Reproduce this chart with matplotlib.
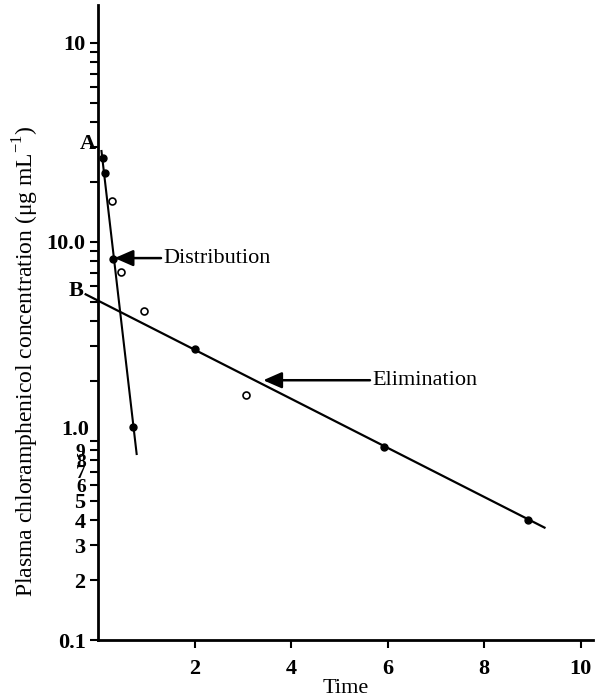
import matplotlib
matplotlib.use("Agg")
import matplotlib.pyplot as plt
from matplotlib.transforms import blended_transform_factory

plt.rcParams['font.family'] = 'Liberation Serif'
plt.rcParams['mathtext.fontset'] = 'custom'
plt.rcParams['mathtext.rm'] = 'Liberation Serif'

# measured points (time, concentration)
filled_t = [0.11, 0.15, 0.30, 0.73, 2.0, 5.92, 8.9]
filled_c = [26.4, 22.3, 8.2, 1.17, 2.9, 0.93, 0.40]
open_t = [0.28, 0.47, 0.94, 3.07]
open_c = [16.1, 7.1, 4.5, 1.70]

# fitted lines
dist_t = [0.066, 0.80]
dist_c = [29.0, 0.85]
elim_t = [-0.28, 9.27]
elim_c = [5.49, 0.365]

ytick_vals = [0.1, 0.2, 0.3, 0.4, 0.5, 0.6, 0.7, 0.8, 0.9, 10, 100]
ytick_labels = ['0.1', '2', '3', '4', '5', '6', '7', '8', '9', '10.0', '10']
yminor = [1, 2, 3, 4, 5, 6, 7, 8, 9, 20, 30, 40, 50, 60, 70, 80, 90]
xtick_vals = [2, 4, 6, 8, 10]

fs = 16

fig = plt.figure(figsize=(6.06, 7.0), dpi=100)
ax = fig.add_axes([0.162, 0.0857, 0.817, 0.907])

ax.plot(dist_t, dist_c, color='black', lw=1.5, solid_capstyle='butt')
ax.plot(elim_t, elim_c, color='black', lw=1.6, clip_on=False, solid_capstyle='butt')
ax.plot(filled_t, filled_c, 'o', color='black', ms=5, clip_on=False)
ax.plot(open_t, open_c, 'o', mfc='white', mec='black', mew=1.2, ms=5, clip_on=False)

ax.set_yscale('log')
ax.set_ylim(0.1, 155)
ax.set_xlim(0, 10.26)

ax.set_yticks(ytick_vals)
ax.set_yticklabels(ytick_labels, fontweight='bold', fontsize=fs)
ax.set_yticks(yminor, minor=True)
ax.set_yticklabels([], minor=True)
ax.set_xticks(xtick_vals)
ax.set_xticklabels([str(v) for v in xtick_vals], fontweight='bold', fontsize=fs)

# the small digits crowd together near 1.0, as in the original
for lab in ax.get_yticklabels():
    if lab.get_text() in ['9', '8', '7', '6']:
        lab.set_fontsize(14)

ax.tick_params(axis='both', which='both', direction='out', length=6, width=1.5, color='black')
ax.tick_params(axis='y', pad=3)
ax.tick_params(axis='x', pad=8)

for s in ['top', 'right']:
    ax.spines[s].set_visible(False)
for s in ['left', 'bottom']:
    ax.spines[s].set_linewidth(2)

# the "1.0" label sits a little above its tick in the original
tr = blended_transform_factory(ax.transAxes, ax.transData)
ax.text(-0.018, 1.13, '1.0', transform=tr, ha='right', va='center',
        fontsize=fs, fontweight='bold')

ax.set_xlabel('Time', fontsize=fs, labelpad=0)
ax.set_ylabel('Plasma chloramphenicol concentration (μg mL$^{-1}$)', fontsize=17)
ax.yaxis.set_label_coords(-0.115, 0.44)

ax.text(-0.05, 31, 'A', fontsize=fs, fontweight='bold', ha='right', va='center')
ax.text(-0.3, 5.7, 'B', fontsize=fs, fontweight='bold', ha='right', va='center')

arrow = dict(arrowstyle='-|>,head_length=0.8,head_width=0.35', color='black',
             lw=1.8, shrinkA=0, shrinkB=0, mutation_scale=14)
ax.annotate('Distribution', xy=(0.34, 8.3), xytext=(1.36, 8.3), fontsize=fs,
            ha='left', va='center', arrowprops=arrow)
ax.annotate('Elimination', xy=(3.42, 2.02), xytext=(5.69, 2.02), fontsize=fs,
            ha='left', va='center', arrowprops=arrow)

fig.savefig('out.png', dpi=100)
